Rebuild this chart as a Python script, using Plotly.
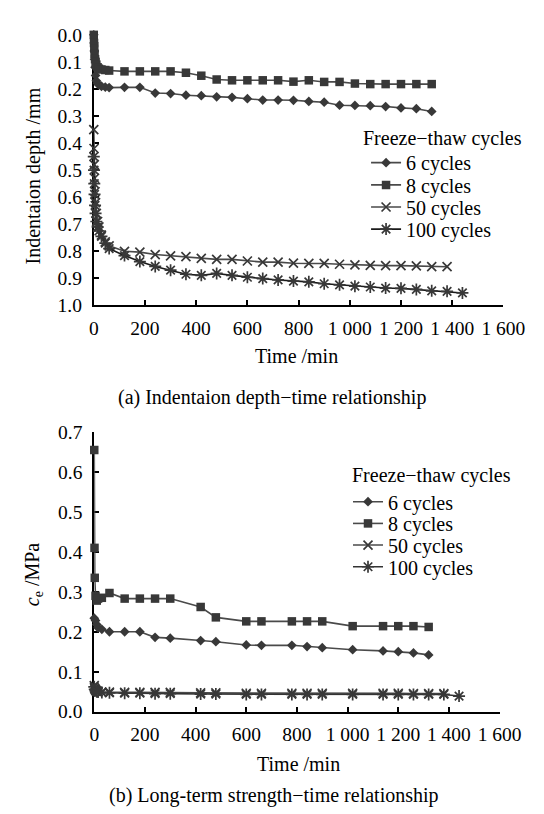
import plotly.graph_objects as go

# ---------------- data: (a) indentation depth vs time ----------------
t_a_6 = [0, 1, 2, 3, 5, 7, 10, 15, 20, 30, 45, 60, 120, 180, 240, 300, 360, 420, 480, 540,
         600, 660, 720, 780, 840, 900, 960, 1020, 1080, 1140, 1200, 1260, 1320]
d_a_6 = [0.0, 0.03, 0.06, 0.09, 0.12, 0.15, 0.17, 0.18, 0.185, 0.19, 0.193, 0.195, 0.194, 0.194,
         0.215, 0.217, 0.223, 0.225, 0.229, 0.231, 0.236, 0.241, 0.241, 0.242, 0.246, 0.249,
         0.26, 0.261, 0.262, 0.265, 0.27, 0.273, 0.283]

t_a_8 = [0, 1, 2, 3, 5, 7, 10, 15, 20, 30, 45, 60, 120, 180, 240, 300, 360, 420, 480, 540,
         600, 660, 720, 780, 840, 900, 960, 1020, 1080, 1140, 1200, 1260, 1320]
d_a_8 = [0.0, 0.03, 0.05, 0.07, 0.09, 0.1, 0.11, 0.12, 0.125, 0.128, 0.13, 0.132, 0.135, 0.135,
         0.135, 0.135, 0.14, 0.151, 0.165, 0.168, 0.168, 0.168, 0.168, 0.173, 0.168, 0.174,
         0.174, 0.18, 0.182, 0.182, 0.182, 0.182, 0.182]

t_a_50 = [0, 1, 2, 3, 5, 7, 10, 15, 20, 30, 45, 60, 120, 180, 240, 300, 360, 420, 480, 540,
          600, 660, 720, 780, 840, 900, 960, 1020, 1080, 1140, 1200, 1260, 1320, 1380]
d_a_50 = [0.35, 0.42, 0.48, 0.53, 0.58, 0.62, 0.66, 0.69, 0.71, 0.74, 0.765, 0.78, 0.80, 0.803,
          0.812, 0.817, 0.82, 0.826, 0.83, 0.83, 0.836, 0.84, 0.84, 0.844, 0.845, 0.845, 0.848,
          0.85, 0.852, 0.853, 0.853, 0.854, 0.857, 0.857]

t_a_100 = [0, 1, 2, 3, 5, 7, 10, 15, 20, 30, 45, 60, 120, 180, 240, 300, 360, 420, 480, 540,
           600, 660, 720, 780, 840, 900, 960, 1020, 1080, 1140, 1200, 1260, 1320, 1380, 1440]
d_a_100 = [0.45, 0.5, 0.55, 0.59, 0.63, 0.66, 0.69, 0.71, 0.725, 0.745, 0.77, 0.79, 0.816, 0.838,
           0.856, 0.87, 0.885, 0.889, 0.882, 0.889, 0.896, 0.901, 0.906, 0.91, 0.913, 0.92,
           0.924, 0.929, 0.932, 0.936, 0.937, 0.941, 0.946, 0.948, 0.954]

# ---------------- data: (b) long-term strength vs time ----------------
t_b_6 = [0, 5, 10, 15, 30, 60, 120, 180, 240, 300, 420, 480, 600, 660, 780, 840, 900, 1020,
         1140, 1200, 1260, 1320]
c_b_6 = [0.234, 0.228, 0.218, 0.21, 0.206, 0.2, 0.2, 0.2, 0.186, 0.184, 0.178, 0.175, 0.167,
         0.166, 0.166, 0.163, 0.16, 0.155, 0.152, 0.15, 0.147, 0.142]

t_b_8 = [0, 1, 2, 5, 10, 15, 30, 60, 120, 180, 240, 300, 420, 480, 600, 660, 780, 840, 900,
         1020, 1140, 1200, 1260, 1320]
c_b_8 = [0.655, 0.41, 0.335, 0.29, 0.278, 0.283, 0.285, 0.297, 0.283, 0.283, 0.283, 0.283,
         0.262, 0.236, 0.226, 0.226, 0.226, 0.226, 0.226, 0.214, 0.214, 0.214, 0.214, 0.212]

t_b_50 = [0, 2, 5, 10, 15, 30, 60, 120, 180, 240, 300, 420, 480, 600, 660, 780, 840, 900,
          1020, 1140, 1200, 1260, 1320, 1380]
c_b_50 = [0.065, 0.058, 0.055, 0.052, 0.05, 0.049, 0.049, 0.048, 0.048, 0.048, 0.048, 0.047,
          0.047, 0.046, 0.046, 0.046, 0.046, 0.046, 0.046, 0.046, 0.046, 0.045, 0.045, 0.045]

t_b_100 = [0, 2, 5, 10, 15, 30, 60, 120, 180, 240, 300, 420, 480, 600, 660, 780, 840, 900,
           1020, 1140, 1200, 1260, 1320, 1380, 1440]
c_b_100 = [0.062, 0.056, 0.052, 0.05, 0.049, 0.048, 0.047, 0.046, 0.046, 0.045, 0.045, 0.044,
           0.044, 0.043, 0.043, 0.043, 0.043, 0.043, 0.043, 0.043, 0.043, 0.043, 0.043, 0.043,
           0.039]

series_names = ["6 cycles", "8 cycles", "50 cycles", "100 cycles"]
x_tickvals = [0, 200, 400, 600, 800, 1000, 1200, 1400, 1600]
x_ticktext = ["0", "200", "400", "600", "800", "1 000", "1 200", "1 400", "1 600"]

# ---------------- layout helpers ----------------
W, H = 544, 814
FONT = "Liberation Serif, Times New Roman, serif"
FS = 19.5      # tick labels
FS_T = 20      # titles, legend, captions


def px(x):
    return x / W


def py(y):
    return 1 - y / H


MARK = "#383838"
LINE = "#4a4a4a"

styles = [
    dict(symbol="diamond", size=7.5, color=MARK, line=dict(width=0)),
    dict(symbol="square", size=8.5, color=MARK, line=dict(width=0)),
    dict(symbol="x-thin-open", size=9, color=MARK, line=dict(width=1.7, color=MARK)),
    dict(symbol="asterisk-open", size=10, color=MARK, line=dict(width=1.7, color=MARK)),
]
line_colors_a = [LINE, LINE, LINE, "#1a1a1a"]
line_colors_b = [LINE, LINE, LINE, "#333333"]

fig = go.Figure()

data_a = [(t_a_6, d_a_6), (t_a_8, d_a_8), (t_a_50, d_a_50), (t_a_100, d_a_100)]
data_b = [(t_b_6, c_b_6), (t_b_8, c_b_8), (t_b_50, c_b_50), (t_b_100, c_b_100)]

for i, (t, v) in enumerate(data_a):
    fig.add_trace(go.Scatter(
        x=t, y=v, mode="lines+markers", name=series_names[i],
        line=dict(color=line_colors_a[i], width=1.6),
        marker=styles[i], cliponaxis=False,
        xaxis="x", yaxis="y",
        legend="legend" if i == 0 else f"legend{i + 1}",
    ))

for i, (t, v) in enumerate(data_b):
    fig.add_trace(go.Scatter(
        x=t, y=v, mode="lines+markers", name=series_names[i],
        line=dict(color=line_colors_b[i], width=1.6),
        marker=styles[i], cliponaxis=False,
        xaxis="x2", yaxis="y2",
        legend=f"legend{i + 5}",
    ))

axis_common = dict(
    showline=True, linecolor="black", linewidth=1.8,
    ticks="inside", ticklen=5, tickwidth=1.6, tickcolor="black",
    showgrid=False, zeroline=False,
    tickfont=dict(family=FONT, size=FS, color="black"),
    layer="below traces",
)

layout = dict(
    width=W, height=H,
    margin=dict(l=0, r=0, t=0, b=0),
    paper_bgcolor="white", plot_bgcolor="white",
    font=dict(family=FONT, size=FS_T, color="black"),
    xaxis=dict(domain=[px(85), px(516)], range=[0, 1600], tickvals=x_tickvals,
               ticktext=x_ticktext, anchor="y", ticklabelstandoff=4, **axis_common),
    yaxis=dict(domain=[py(295), py(17.3)], range=[1.0, 0.0], tick0=0, dtick=0.1,
               tickformat=".1f", anchor="x", ticklabelstandoff=6, **axis_common),
    xaxis2=dict(domain=[px(85.5), px(512)], range=[0, 1600], tickvals=x_tickvals,
                ticktext=x_ticktext, anchor="y2", ticklabelstandoff=4, **axis_common),
    yaxis2=dict(domain=[py(712), py(425)], range=[0, 0.7], tick0=0, dtick=0.1,
                tickformat=".1f", anchor="x2", ticklabelstandoff=6, **axis_common),
    showlegend=True,
)

# one legend per entry so the row spacing can follow the original
leg_a_y = [148.5, 171.3, 194.0, 216.7]
leg_b_y = [496.5, 518.8, 541.0, 563.3]
for i in range(4):
    key = "legend" if i == 0 else f"legend{i + 1}"
    layout[key] = dict(x=px(371.5), y=py(leg_a_y[i]), xanchor="left", yanchor="middle",
                       bgcolor="rgba(0,0,0,0)", borderwidth=0,
                       font=dict(family=FONT, size=FS_T, color="black"))
for i in range(4):
    key = f"legend{i + 5}"
    layout[key] = dict(x=px(352.5), y=py(leg_b_y[i]), xanchor="left", yanchor="middle",
                       bgcolor="rgba(0,0,0,0)", borderwidth=0,
                       font=dict(family=FONT, size=FS_T, color="black"))

fig.update_layout(**layout)


def ann(text, x, y, angle=0, xanchor="center", size=FS_T):
    fig.add_annotation(text=text, x=px(x), y=py(y), xref="paper", yref="paper",
                       showarrow=False, textangle=angle, xanchor=xanchor, yanchor="middle",
                       font=dict(family=FONT, size=size, color="black"))


ann("Indentaion depth /mm", 22, 161.7, angle=-90)
ann("Time /min", 298, 347)
ann("(a) Indentaion depth\u2212time relationship", 273, 390)
ann("Freeze\u2212thaw cycles", 366.7, 124, xanchor="left")

ann("<i>c</i><sub>e</sub> /MPa", 21, 571, angle=-90)
ann("Time /min", 300, 765.5)
ann("(b) Long-term strength\u2212time relationship", 274.5, 798.5)
ann("Freeze\u2212thaw cycles", 355, 470, xanchor="left")

fig.write_html("out.html")
